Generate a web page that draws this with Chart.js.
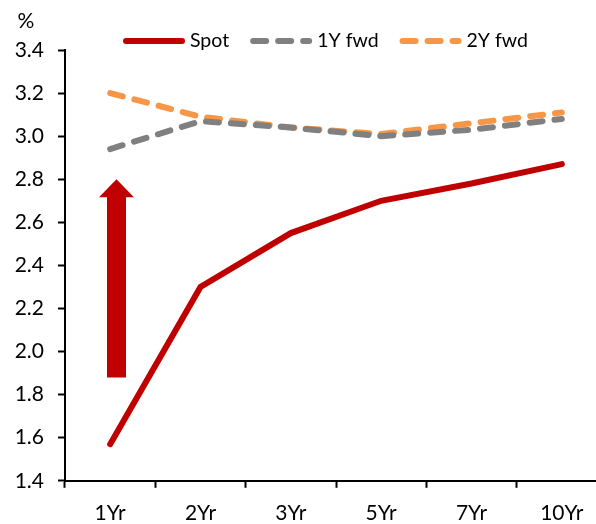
<!DOCTYPE html>
<html>
<head>
<meta charset="utf-8">
<script src="https://cdn.jsdelivr.net/npm/chart.js@4/dist/chart.umd.min.js"></script>
<style>
  html, body { margin: 0; padding: 0; background: #fff; }
  #wrap { width: 596px; height: 524px; overflow: hidden; position: relative; }
</style>
</head>
<body>
<div id="wrap"><canvas id="curve" width="612" height="540"></canvas></div>
<script>
const tenors = ["1Yr", "2Yr", "3Yr", "5Yr", "7Yr", "10Yr"];
const spot = [1.57, 2.30, 2.55, 2.70, 2.78, 2.87];
const fwd1y = [2.94, 3.07, 3.04, 3.00, 3.03, 3.08];
const fwd2y = [3.20, 3.09, 3.04, 3.01, 3.06, 3.11];
const yTicks = [1.4, 1.6, 1.8, 2.0, 2.2, 2.4, 2.6, 2.8, 3.0, 3.2, 3.4];

// the big red arrow next to 1Yr (values in %)
const arrowAt = 0.07;
const arrowFrom = 1.88;
const arrowTo = 2.80;

const FONT = "Lato, 'Open Sans', sans-serif";

const arrowPlugin = {
  id: "arrow",
  afterDatasetsDraw(chart) {
    const { ctx, scales } = chart;
    const x = scales.x.getPixelForValue(arrowAt);
    const yb = scales.y.getPixelForValue(arrowFrom);
    const yt = scales.y.getPixelForValue(arrowTo);
    const shaft = 19, head = 35, headH = 18;
    ctx.save();
    ctx.fillStyle = "#C00000";
    ctx.beginPath();
    ctx.moveTo(x - shaft / 2, yb);
    ctx.lineTo(x - shaft / 2, yt + headH);
    ctx.lineTo(x - head / 2, yt + headH);
    ctx.lineTo(x, yt);
    ctx.lineTo(x + head / 2, yt + headH);
    ctx.lineTo(x + shaft / 2, yt + headH);
    ctx.lineTo(x + shaft / 2, yb);
    ctx.closePath();
    ctx.fill();
    ctx.restore();
  }
};

const legendPlugin = {
  id: "lineLegend",
  afterDraw(chart) {
    const ctx = chart.ctx;
    ctx.save();
    ctx.font = "19.5px " + FONT;
    ctx.textBaseline = "middle";
    let x = 123;
    const y = 41;
    chart.data.datasets.forEach((ds) => {
      ctx.strokeStyle = ds.borderColor;
      ctx.lineWidth = ds.borderWidth;
      ctx.lineCap = "round";
      ctx.setLineDash(ds.borderDash || []);
      ctx.beginPath();
      ctx.moveTo(x + 3, y);
      ctx.lineTo(x + 59, y);
      ctx.stroke();
      ctx.setLineDash([]);
      ctx.fillStyle = "#000";
      ctx.fillText(ds.label, x + 67, y);
      x += 67 + ctx.measureText(ds.label).width + 21;
    });
    // unit label above the y axis
    ctx.font = "21px " + FONT;
    ctx.textAlign = "center";
    ctx.fillText("%", 26, 21);
    ctx.restore();
  }
};

new Chart(document.getElementById("curve"), {
  type: "line",
  data: {
    labels: tenors,
    datasets: [
      {
        label: "Spot",
        data: spot,
        borderColor: "#C00000",
        borderWidth: 6,
        borderCapStyle: "round",
        pointRadius: 0,
        tension: 0
      },
      {
        label: "1Y fwd",
        data: fwd1y,
        borderColor: "#808080",
        borderWidth: 6,
        borderDash: [13, 12],
        borderCapStyle: "round",
        pointRadius: 0,
        tension: 0
      },
      {
        label: "2Y fwd",
        data: fwd2y,
        borderColor: "#F79646",
        borderWidth: 6,
        borderDash: [13, 12],
        borderCapStyle: "round",
        pointRadius: 0,
        tension: 0
      }
    ]
  },
  options: {
    responsive: false,
    animation: false,
    layout: { padding: { top: 50, right: 5, bottom: 1, left: 0 } },
    plugins: {
      legend: { display: false },
      tooltip: { enabled: false }
    },
    scales: {
      x: {
        offset: true,
        grid: {
          offset: true,
          drawOnChartArea: false,
          drawTicks: true,
          tickLength: 7,
          tickWidth: 2,
          tickColor: "#000"
        },
        border: { color: "#000", width: 2 },
        ticks: { color: "#000", font: { family: FONT, size: 21 }, padding: 13, maxRotation: 0 }
      },
      y: {
        min: 1.4,
        max: 3.4,
        afterBuildTicks(scale) {
          scale.ticks = yTicks.map((v) => ({ value: v }));
        },
        afterFit(scale) {
          scale.width = 65;
        },
        grid: {
          drawOnChartArea: false,
          drawTicks: true,
          tickLength: 7,
          tickWidth: 2,
          tickColor: "#000"
        },
        border: { color: "#000", width: 2 },
        ticks: {
          color: "#000",
          font: { family: FONT, size: 21 },
          padding: 14,
          callback: (v) => Number(v).toFixed(1)
        }
      }
    }
  },
  plugins: [arrowPlugin, legendPlugin]
});
</script>
</body>
</html>
